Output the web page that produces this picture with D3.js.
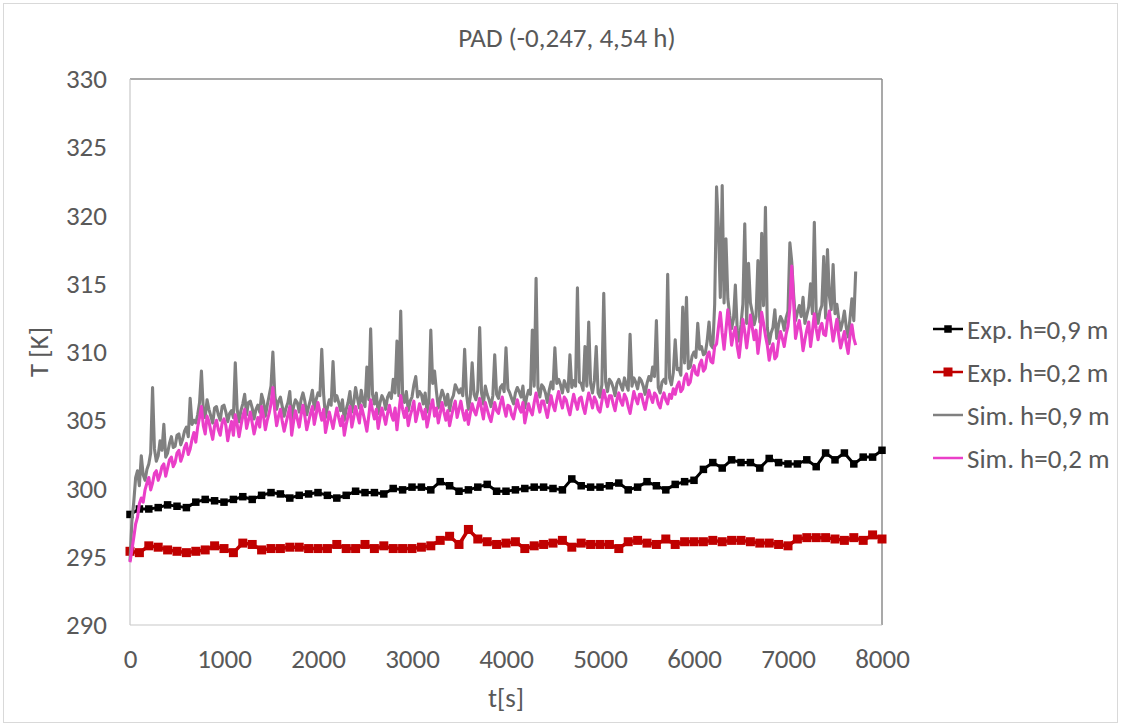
<!DOCTYPE html>
<html><head><meta charset="utf-8">
<script src="https://cdn.jsdelivr.net/npm/d3@7"></script>
<style>
body{margin:0;background:#fff;}
svg{display:block;font-family:Carlito,Calibri,Lato,sans-serif;}
</style></head><body>
<svg id="chart" width="1121" height="726"></svg>
<script>
// ---- data ----
const chartTitle = "PAD (-0,247, 4,54 h)";
const xTicks = [0,1000,2000,3000,4000,5000,6000,7000,8000];
const yTicks = [290,295,300,305,310,315,320,325,330];
const seriesNames = ["Exp. h=0,9 m","Exp. h=0,2 m","Sim. h=0,9 m","Sim. h=0,2 m"];
const expStep = 100;   // s between experimental samples
const simStep = 20;    // s between simulation samples

const expH09 = [298.1,298.5,298.5,298.6,298.8,298.7,298.6,299.0,299.2,299.1,
299.0,299.2,299.4,299.2,299.5,299.7,299.6,299.3,299.5,299.6,
299.7,299.5,299.3,299.5,299.8,299.7,299.7,299.6,300.0,299.9,
300.1,300.1,299.9,300.5,300.2,299.8,299.9,300.1,300.3,299.8,
299.8,299.9,300.0,300.1,300.1,300.0,299.9,300.7,300.2,300.1,
300.1,300.2,300.4,299.9,300.1,300.5,300.2,299.9,300.3,300.5,
300.6,301.4,301.9,301.5,302.1,301.9,301.9,301.5,302.2,301.9,
301.8,301.8,302.1,301.6,302.6,302.1,302.6,301.8,302.3,302.3,
302.8];

const expH02 = [295.4,295.3,295.8,295.7,295.5,295.4,295.3,295.4,295.5,295.8,
295.6,295.3,296.0,295.9,295.5,295.6,295.6,295.7,295.7,295.6,
295.6,295.6,295.9,295.6,295.6,295.9,295.6,295.8,295.6,295.6,
295.6,295.7,295.8,296.2,296.5,295.9,297.0,296.3,296.1,295.9,
296.0,296.1,295.6,295.8,295.9,296.0,296.2,295.7,296.0,295.9,
295.9,295.9,295.6,296.1,296.2,296.0,295.9,296.3,295.9,296.1,
296.1,296.1,296.2,296.1,296.2,296.2,296.1,296.0,296.0,295.9,
295.8,296.3,296.4,296.4,296.4,296.3,296.2,296.4,296.2,296.6,
296.3];

const simH09 = [
294.7,297.6,299.0,300.8,301.3,300.2,302.4,301.0,300.6,301.4,
301.8,302.6,307.4,302.9,302.0,302.4,303.5,302.8,304.7,302.3,
302.6,303.3,303.8,303.0,303.1,303.9,304.0,303.2,303.6,304.2,
304.5,303.8,306.6,304.7,305.0,304.8,305.4,306.3,308.6,305.7,
305.2,306.5,305.8,305.3,304.8,305.9,306.0,305.4,305.0,306.0,
306.1,305.6,304.9,305.5,305.7,305.2,309.2,305.8,304.9,305.7,
306.2,306.9,305.4,306.3,306.4,305.9,305.1,305.8,306.1,305.6,
306.9,306.4,305.3,306.1,306.8,307.5,310.0,306.9,305.8,306.4,
306.7,306.0,305.3,305.9,306.3,307.1,305.0,306.0,306.5,306.3,
305.6,306.5,307.0,306.4,305.4,306.0,306.5,307.2,305.8,306.5,
307.0,306.8,310.2,306.9,305.2,305.9,306.5,306.1,309.3,306.4,
306.8,306.3,305.7,306.5,305.0,305.8,306.3,307.1,305.6,306.3,
307.4,306.6,305.9,307.2,306.4,306.0,308.9,306.5,311.7,306.9,
306.2,307.0,305.5,306.3,306.8,306.5,305.8,306.7,307.0,306.6,
308.0,307.0,310.8,306.8,313.0,306.9,306.3,307.1,305.7,306.4,
306.7,307.6,308.2,306.7,307.1,306.9,306.2,307.0,305.6,306.4,
311.6,307.7,308.6,307.1,305.9,306.6,307.2,306.8,306.1,306.9,
305.7,306.5,306.8,307.6,307.3,307.0,307.3,306.8,310.2,306.9,
305.8,306.7,309.2,306.9,306.5,307.2,311.8,307.0,306.2,307.5,
306.9,306.5,306.0,306.8,309.8,306.9,306.6,307.4,307.6,307.1,
310.3,307.3,307.0,306.6,306.2,307.0,307.4,307.1,306.7,307.5,
305.9,306.7,307.2,306.9,311.6,307.5,315.4,307.4,306.7,307.6,
307.4,307.0,306.3,307.2,307.8,307.3,310.3,307.7,308.0,307.6,
307.0,307.9,307.5,307.1,309.8,307.4,307.9,307.5,314.7,307.8,
307.7,307.2,310.4,307.5,312.2,307.7,307.0,307.9,310.4,307.0,
306.7,307.6,314.3,307.8,307.1,308.0,307.8,307.4,306.8,307.7,
308.0,307.6,307.2,308.1,307.6,307.2,311.3,307.5,308.1,307.8,
307.3,308.1,307.9,307.5,306.9,307.7,308.2,307.9,308.9,308.2,
312.3,307.4,307.0,307.8,308.0,307.7,315.7,308.1,307.6,308.5,
310.9,308.7,308.8,308.3,313.3,309.2,314.0,308.8,308.9,309.7,
310.0,309.6,312.1,310.2,310.4,309.8,309.9,310.8,312.2,310.5,
310.3,313.5,322.1,319.0,314.0,322.2,313.6,318.3,313.9,312.7,
311.7,312.4,314.9,311.6,310.8,312.0,313.5,319.4,312.1,316.5,
313.6,312.9,312.0,312.6,316.7,312.2,318.7,313.4,320.6,311.8,
310.6,311.4,311.8,313.1,311.0,312.0,312.6,312.3,311.6,312.5,
313.0,318.0,316.6,314.2,312.3,312.9,313.4,312.6,314.0,312.1,
312.7,313.3,315.0,312.8,319.5,312.9,312.1,313.0,313.4,317.0,
312.5,317.5,314.1,313.1,316.4,312.8,313.5,312.4,311.6,312.2,
313.0,311.8,311.1,312.5,313.9,312.3,315.9];

const simH02 = [
294.6,295.5,296.4,297.4,297.9,298.9,299.3,299.0,299.9,300.4,
300.8,299.9,300.4,301.1,301.3,300.6,301.0,301.6,301.8,300.9,
301.5,302.1,302.3,301.6,301.9,302.6,302.8,302.0,302.4,303.0,
303.3,302.5,302.9,303.6,304.1,303.4,304.5,305.2,306.0,304.6,
304.0,305.3,304.9,304.2,303.6,304.6,305.0,304.3,303.9,304.8,
305.1,304.6,303.5,304.3,304.9,303.9,305.4,304.7,303.8,304.6,
305.3,305.8,304.4,305.0,305.6,304.8,304.0,304.6,305.2,304.5,
306.0,305.3,304.3,305.0,305.5,306.2,307.4,305.7,304.6,305.3,
305.8,304.9,304.2,304.8,305.4,306.0,303.9,304.9,305.7,305.1,
304.5,305.4,306.1,305.3,304.3,304.9,305.5,306.0,304.7,305.4,
306.3,305.6,305.0,305.8,304.1,304.8,305.6,305.0,304.4,305.2,
305.9,305.2,304.6,305.3,303.9,304.7,305.3,306.0,304.5,305.2,
306.0,305.4,304.8,306.1,305.5,304.9,304.2,305.3,306.5,305.7,
305.1,305.8,304.4,305.2,305.9,305.3,304.7,305.5,306.1,305.4,
305.0,305.9,304.3,305.6,306.8,305.8,305.2,305.9,304.6,305.3,
305.8,306.4,304.9,305.5,306.2,305.7,305.1,305.8,304.5,305.2,
306.0,306.5,305.3,305.9,304.8,305.5,306.3,305.6,305.0,305.7,
304.6,305.3,305.9,306.4,305.2,305.8,306.4,305.6,305.0,305.7,
304.7,305.5,306.2,305.7,305.4,306.0,306.6,305.8,305.1,306.3,
305.8,305.3,304.9,305.6,306.3,305.7,305.5,306.2,306.7,305.9,
305.3,306.1,306.0,305.4,305.1,305.8,306.5,305.9,305.6,306.3,
304.8,305.5,306.2,305.7,305.4,306.3,307.0,306.2,305.6,306.4,
306.4,305.8,305.2,306.0,306.8,306.1,305.7,306.5,307.1,306.4,
305.9,306.7,306.5,305.9,305.4,306.2,306.9,306.3,305.8,306.6,
306.7,306.0,305.5,306.3,307.0,306.5,305.9,306.7,306.4,305.8,
305.6,306.4,307.2,306.6,306.0,306.8,306.8,306.2,305.7,306.5,
307.0,306.4,306.1,306.9,306.6,306.0,305.5,306.3,307.1,306.6,
306.2,306.9,306.9,306.3,305.8,306.5,307.2,306.7,306.3,307.0,
306.8,306.2,305.9,306.6,307.0,306.5,306.2,306.9,306.6,307.3,
306.9,307.5,307.8,307.1,307.3,308.1,308.4,307.6,307.8,308.6,
309.0,308.4,308.3,309.1,309.4,308.6,308.8,309.7,310.0,309.3,
309.2,310.4,310.6,311.8,312.9,311.4,310.2,311.6,313.1,311.9,
310.5,311.3,311.8,310.4,309.6,310.9,312.4,311.5,310.3,311.4,
312.7,311.8,310.9,311.6,309.9,311.0,312.9,312.1,311.2,310.5,
309.4,310.2,310.6,309.5,309.7,310.8,311.5,311.0,310.4,311.3,
311.9,313.2,316.3,313.6,311.0,311.7,312.3,311.4,310.1,310.9,
311.6,312.2,310.4,311.5,312.8,311.7,310.9,311.8,312.1,311.3,
311.2,312.4,313.0,311.9,310.8,311.6,312.4,311.2,310.3,310.9,
311.5,310.6,309.9,311.2,312.0,311.0,310.5];

const colors = ["#000000","#C00000","#808080","#EA3FC8"];

// ---- chart ----
const svg = d3.select("#chart");
const W = 1121, H = 726;
const P = {left:130, right:882, top:79, bottom:625};
const x = d3.scaleLinear().domain([0,8000]).range([P.left,P.right]);
const y = d3.scaleLinear().domain([290,330]).range([P.bottom,P.top]);
const textCol = "#595959";
const fs = 27;

svg.append("rect").attr("x",3.5).attr("y",3.5).attr("width",W-7).attr("height",H-7)
  .attr("fill","#fff").attr("stroke","#d9d9d9").attr("stroke-width",1);

svg.append("text").attr("x",567).attr("y",37).attr("text-anchor","middle")
  .attr("dominant-baseline","central").attr("font-size",fs).attr("fill",textCol).text(chartTitle);

// axes
const gy = svg.append("g").attr("transform",`translate(${P.left},0)`)
  .call(d3.axisLeft(y).tickValues(yTicks).tickSize(0).tickPadding(23).tickFormat(d3.format("d")));
gy.attr("font-family",null).attr("font-size",null);
gy.select(".domain").remove();
gy.selectAll("text").attr("font-size",fs).attr("fill",textCol);

const gx = svg.append("g").attr("transform",`translate(0,${P.bottom})`)
  .call(d3.axisBottom(x).tickValues(xTicks).tickSize(0).tickPadding(24).tickFormat(d3.format("d")));
gx.attr("font-family",null).attr("font-size",null);
gx.select(".domain").remove();
gx.selectAll("text").attr("font-size",fs).attr("fill",textCol);

svg.append("text").attr("transform","translate(38,352) rotate(-90)").attr("text-anchor","middle")
  .attr("dominant-baseline","central").attr("font-size",fs).attr("fill",textCol).text("T [K]");
svg.append("text").attr("x",506).attr("y",697).attr("text-anchor","middle")
  .attr("dominant-baseline","central").attr("font-size",fs).attr("fill",textCol).text("t[s]");

// plot border
svg.append("line").attr("x1",P.left).attr("x2",P.right).attr("y1",P.top).attr("y2",P.top).attr("stroke","#8c8c8c").attr("stroke-width",1.5);
svg.append("line").attr("x1",P.right).attr("x2",P.right).attr("y1",P.top).attr("y2",P.bottom).attr("stroke","#8c8c8c").attr("stroke-width",1.5);
svg.append("line").attr("x1",P.left).attr("x2",P.left).attr("y1",P.top).attr("y2",P.bottom).attr("stroke","#c8c8c8").attr("stroke-width",1.2);
svg.append("line").attr("x1",P.left).attr("x2",P.right).attr("y1",P.bottom).attr("y2",P.bottom).attr("stroke","#c8c8c8").attr("stroke-width",1.2);

const line = d3.line().x(d=>x(d[0])).y(d=>y(d[1]));
const expData = [expH09, expH02].map(arr => arr.map((v,i)=>[i*expStep, v]));
const simData = [simH09, simH02].map(arr => arr.map((v,i)=>[i*simStep, v]));
const markSize = [7.5, 9];
const expWidth = [3, 3.5];

expData.forEach((d,k)=>{
  svg.append("path").datum(d).attr("d",line).attr("fill","none")
    .attr("stroke",colors[k]).attr("stroke-width",expWidth[k]).attr("stroke-linejoin","round");
  svg.append("g").selectAll("rect").data(d).join("rect")
    .attr("x",p=>x(p[0])-markSize[k]/2).attr("y",p=>y(p[1])-markSize[k]/2)
    .attr("width",markSize[k]).attr("height",markSize[k]).attr("fill",colors[k]);
});
simData.forEach((d,k)=>{
  svg.append("path").datum(d).attr("d",line).attr("fill","none")
    .attr("stroke",colors[k+2]).attr("stroke-width",3.1).attr("stroke-linejoin","round");
});

// legend
const legY = [329,372,415,458];
const leg = svg.append("g");
seriesNames.forEach((name,k)=>{
  const g = leg.append("g").attr("transform",`translate(0,${legY[k]})`);
  g.append("line").attr("x1",933).attr("x2",963).attr("y1",0).attr("y2",0)
    .attr("stroke",colors[k]).attr("stroke-width",2.5);
  if(k<2){
    g.append("rect").attr("x",948-markSize[k]/2).attr("y",-markSize[k]/2)
      .attr("width",markSize[k]).attr("height",markSize[k]).attr("fill",colors[k]);
  }
  g.append("text").attr("x",967).attr("y",0).attr("dominant-baseline","central")
    .attr("font-size",fs).attr("fill",textCol).text(name);
});
</script>
</body></html>
